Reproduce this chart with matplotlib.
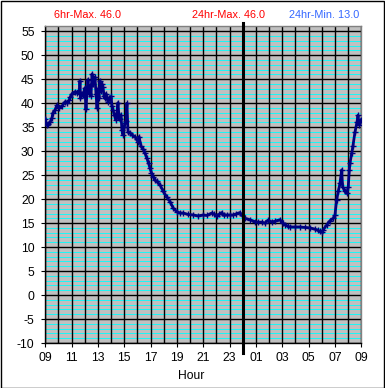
import matplotlib
matplotlib.use("Agg")
import matplotlib.pyplot as plt
import numpy as np

plt.rcParams['font.family'] = ['Liberation Sans', 'DejaVu Sans']
plt.rcParams['axes.unicode_minus'] = False

# hours since 09:00
hours = [0.00, 0.11, 0.21, 0.36, 0.51, 0.58, 0.74, 0.89, 1.04, 1.27, 1.50, 1.65, 1.80, 1.88,
         2.03, 2.26, 2.41, 2.48, 2.60, 2.63, 2.67, 2.79, 2.86, 3.01, 3.09, 3.17, 3.24, 3.32,
         3.39, 3.47, 3.55, 3.62, 3.70, 3.77, 3.85, 3.93, 4.00, 4.08, 4.15, 4.23, 4.31, 4.38,
         4.46, 4.53, 4.61, 4.76, 4.87, 4.99, 5.06, 5.14, 5.25, 5.37, 5.44, 5.52, 5.60, 5.67,
         5.75, 5.82, 5.90, 5.98, 6.05, 6.13, 6.20, 6.28, 6.43, 6.58, 6.81, 6.96, 7.04, 7.12,
         7.27, 7.42, 7.57, 7.72, 7.84, 7.95, 8.06, 8.20, 8.33, 8.46, 8.71, 8.96, 9.22, 9.47,
         9.72, 9.98, 10.23, 10.48, 10.84, 11.24, 11.60, 12.00, 12.28, 12.64, 12.81, 13.01,
         13.19, 13.39, 13.57, 13.77, 14.02, 14.27, 14.48, 14.78, 14.94, 15.16, 15.54, 15.92,
         16.15, 16.45, 16.68, 16.91, 17.21, 17.44, 17.82, 18.05, 18.20, 18.43, 18.58, 18.96,
         19.33, 19.71, 20.10, 20.47, 20.71, 20.86, 21.01, 21.11, 21.37, 21.62, 21.87, 22.00,
         22.13, 22.25, 22.38, 22.51, 22.58, 22.76, 22.89, 23.01, 23.09, 23.14, 23.27, 23.36,
         23.52, 23.67, 23.75, 23.82, 23.90, 23.97]
temps = [36.7, 35.4, 35.6, 36.0, 37.0, 38.0, 38.6, 39.6, 39.0, 39.4, 40.3, 40.1, 40.6, 41.2,
         42.0, 42.4, 42.1, 42.5, 42.0, 44.7, 41.0, 42.0, 41.7, 43.2, 38.7, 42.5, 44.9, 42.0,
         43.6, 41.5, 46.1, 44.0, 45.0, 45.5, 42.0, 39.0, 43.0, 41.0, 44.7, 42.5, 44.0, 43.3,
         41.5, 41.0, 42.0, 40.3, 41.0, 41.4, 39.5, 38.6, 37.5, 36.5, 38.0, 40.1, 37.0, 36.7,
         37.5, 34.4, 33.4, 35.0, 35.8, 36.2, 40.0, 34.1, 33.8, 33.4, 33.0, 32.5, 32.0, 33.0,
         31.0, 30.5, 29.6, 28.5, 27.5, 26.5, 25.5, 24.7, 24.0, 23.7, 23.0, 21.6, 20.5, 19.5,
         18.1, 17.4, 17.1, 17.1, 16.8, 16.7, 16.5, 16.7, 16.6, 17.1, 16.9, 16.4,
         16.8, 17.2, 16.6, 16.7, 16.7, 16.7, 16.9, 17.2, 16.6, 16.0, 15.7, 15.3,
         15.2, 15.2, 15.0, 15.6, 15.2, 15.4, 15.7, 15.0, 14.7, 14.3, 14.2, 14.2,
         14.2, 14.1, 14.0, 13.75, 13.5, 13.25, 13.1, 13.6, 14.6, 15.5, 16.0, 16.7,
         19.9, 21.6, 23.3, 26.1, 22.6, 21.6, 21.2, 22.6, 26.1, 27.5, 29.6, 31.0,
         34.0, 36.0, 37.5, 35.5, 36.0, 36.5]

xtick_pos = list(range(0, 25, 2))
xtick_labels = ['09', '11', '13', '15', '17', '19', '21', '23', '01', '03', '05', '07', '09']
yticks = list(range(-10, 56, 5))
midnight = 15

titles = [('6hr-Max. 46.0', '#FF0000', 54), ('24hr-Max. 46.0', '#FF0000', 192),
          ('24hr-Min. 13.0', '#3366FF', 289)]

W, H = 385, 388
fig = plt.figure(figsize=(W / 100, H / 100), dpi=100)
fig.patch.set_facecolor('white')
# outer border
fig.add_artist(plt.Rectangle((0.5 / W, 0.5 / H), 1 - 1.5 / W, 1 - 1.5 / H, transform=fig.transFigure,
                             fill=False, edgecolor='black', linewidth=1.0))

left, right, bottom, top = 45.3, 361.3, 343.0, 26.0
ax = fig.add_axes([left / W, 1 - bottom / H, (right - left) / W, (bottom - top) / H])
ax.set_facecolor('#C0C0C0')
ax.set_xlim(0, 24)
ax.set_ylim(-10, 56.1)

# minor cyan lines
for v in range(-10, 57):
    if v % 5 != 0:
        ax.axhline(v, color='#00FFFF', lw=0.6, zorder=1)
# major grid
for v in yticks:
    ax.axhline(v, color='black', lw=1.0, zorder=2)
for h in range(0, 25):
    ax.axvline(h, color='black', lw=1.0, zorder=2)

ax.plot(hours, temps, color='#000080', lw=2.0, marker='+', ms=4, mew=1.0, zorder=4)

ax.axvline(midnight, ymin=-0.032, ymax=1.008, color='black', lw=2.2, clip_on=False, zorder=5)

ax.set_xticks(xtick_pos)
ax.set_xticklabels(xtick_labels)
ax.set_yticks(yticks)
ax.tick_params(axis='both', direction='out', length=3.2, width=0.8, color='black',
               labelsize=8.7)
ax.tick_params(axis='y', pad=4.5)
ax.tick_params(axis='x', pad=3.0)

for s in ['left', 'bottom']:
    ax.spines[s].set_color('black')
    ax.spines[s].set_linewidth(1.0)
for s in ['top', 'right']:
    ax.spines[s].set_color('#808080')
    ax.spines[s].set_linewidth(1.0)

fig.text(191 / W, 1 - 376 / H, 'Hour', ha='center', va='center', fontsize=8.7)
for txt, col, xl in titles:
    fig.text(xl / W, 1 - 15 / H, txt, color=col, ha='left', va='center', fontsize=7.8)

fig.savefig('out.png', dpi=100)
